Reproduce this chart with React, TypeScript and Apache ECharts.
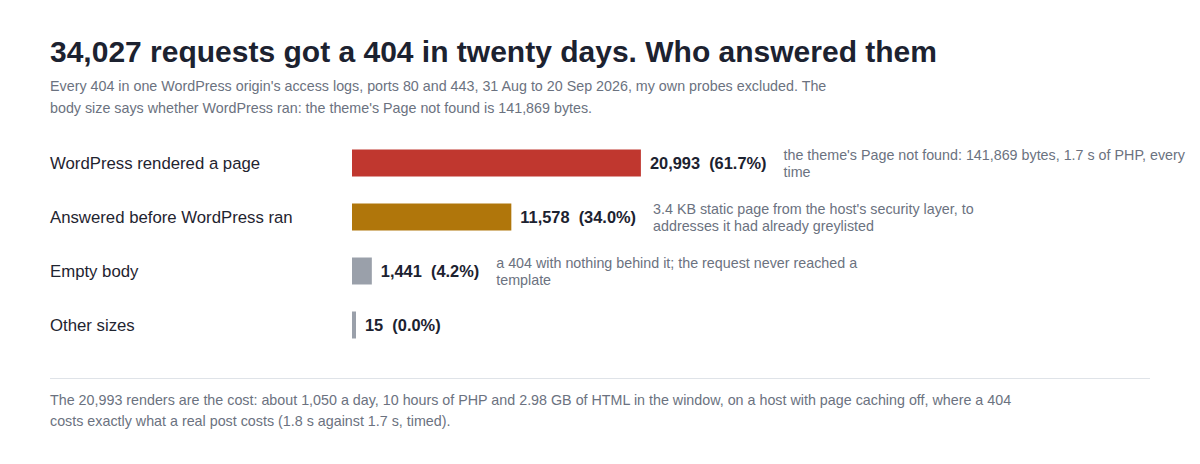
import { useEffect, useRef } from "react";
import * as echarts from "echarts";

const categories = [
  "WordPress rendered a page",
  "Answered before WordPress ran",
  "Empty body",
  "Other sizes",
];
const counts = [20993, 11578, 1441, 15];
const notes = [
  "the theme's Page not found: 141,869 bytes, 1.7 s of PHP, every\ntime",
  "3.4 KB static page from the host's security layer, to\naddresses it had already greylisted",
  "a 404 with nothing behind it; the request never reached a\ntemplate",
  "",
];
const barColors = ["#c0372f", "#b0760b", "#9aa0aa", "#9aa0aa"];

const titleText = "34,027 requests got a 404 in twenty days. Who answered them";
const subtitleText =
  "Every 404 in one WordPress origin's access logs, ports 80 and 443, 31 Aug to 20 Sep 2026, my own probes excluded. The\nbody size says whether WordPress ran: the theme's Page not found is 141,869 bytes.";
const footerText =
  "The 20,993 renders are the cost: about 1,050 a day, 10 hours of PHP and 2.98 GB of HTML in the window, on a host with page caching off, where a 404\ncosts exactly what a real post costs (1.8 s against 1.7 s, timed).";

const FONT = "'Liberation Sans', Arial, Helvetica, sans-serif";
const VALUE_SIZE = 16.4;
const total = counts.reduce((a, b) => a + b, 0);

function valueLabel(i: number) {
  const pct = ((counts[i] / total) * 100).toFixed(1);
  return `${counts[i].toLocaleString("en-US")}  (${pct}%)`;
}

// measure the bold value label so the note can sit right after it
let measureCtx: CanvasRenderingContext2D | null = null;
function textWidth(text: string, font: string) {
  if (!measureCtx) measureCtx = document.createElement("canvas").getContext("2d");
  if (!measureCtx) return text.length * 8;
  measureCtx.font = font;
  return measureCtx.measureText(text).width;
}

export default function App() {
  const chartRef = useRef<HTMLDivElement>(null);

  useEffect(() => {
    document.body.style.margin = "0";
    if (!chartRef.current) return;
    const chart = echarts.init(chartRef.current, undefined, { renderer: "svg" });

    const option = {
      animation: false,
      textStyle: { fontFamily: FONT },
      grid: { left: 352, top: 136, width: 600, height: 216 },
      xAxis: { type: "value", min: 0, max: 43600, show: false },
      yAxis: {
        type: "category",
        data: categories,
        inverse: true,
        axisLine: { show: false },
        axisTick: { show: false },
        splitLine: { show: false },
        axisLabel: {
          align: "left",
          margin: 302,
          fontSize: 16.75,
          color: "#1f2430",
          fontFamily: FONT,
        },
      },
      graphic: [
        {
          type: "text",
          x: 50,
          y: 51,
          style: {
            text: titleText,
            fontSize: 30,
            fontWeight: "bold",
            fontFamily: FONT,
            fill: "#1c2230",
            verticalAlign: "middle",
          },
        },
        {
          type: "text",
          x: 50,
          y: 97,
          style: {
            text: subtitleText,
            fontSize: 14.3,
            lineHeight: 22,
            fontFamily: FONT,
            fill: "#6b7280",
            verticalAlign: "middle",
          },
        },
        {
          type: "line",
          shape: { x1: 50, y1: 378.5, x2: 1150, y2: 378.5 },
          style: { stroke: "#dfe3e8", lineWidth: 1 },
        },
        {
          type: "text",
          x: 50,
          y: 410.5,
          style: {
            text: footerText,
            fontSize: 14.3,
            lineHeight: 21,
            fontFamily: FONT,
            fill: "#6b7280",
            verticalAlign: "middle",
          },
        },
      ],
      series: [
        {
          type: "bar",
          barWidth: 27,
          barMinHeight: 4,
          data: counts.map((v, i) => ({ value: v, itemStyle: { color: barColors[i] } })),
          label: {
            show: true,
            position: "right",
            distance: 9,
            fontSize: VALUE_SIZE,
            fontWeight: "bold",
            fontFamily: FONT,
            color: "#1c2230",
            formatter: (p: any) => valueLabel(p.dataIndex),
          },
        },
        {
          type: "custom",
          silent: true,
          clip: false,
          encode: { x: 0, y: 1 },
          data: counts.map((v, i) => [v, i]),
          renderItem: (params: any, api: any) => {
            const i = params.dataIndex;
            if (!notes[i]) return null;
            const start = api.coord([0, i]);
            const end = api.coord([api.value(0), i]);
            const barEnd = start[0] + Math.max(end[0] - start[0], 4);
            const w = textWidth(valueLabel(i), `bold ${VALUE_SIZE}px ${FONT}`);
            return {
              type: "text",
              x: barEnd + 9 + w + 17,
              y: end[1],
              style: {
                text: notes[i],
                fontSize: 14.3,
                lineHeight: 17,
                fontFamily: FONT,
                fill: "#6b7280",
                verticalAlign: "middle",
              },
            };
          },
        },
      ],
    };

    chart.setOption(option);
    return () => chart.dispose();
  }, []);

  return <div ref={chartRef} style={{ width: 1200, height: 464 }} />;
}
